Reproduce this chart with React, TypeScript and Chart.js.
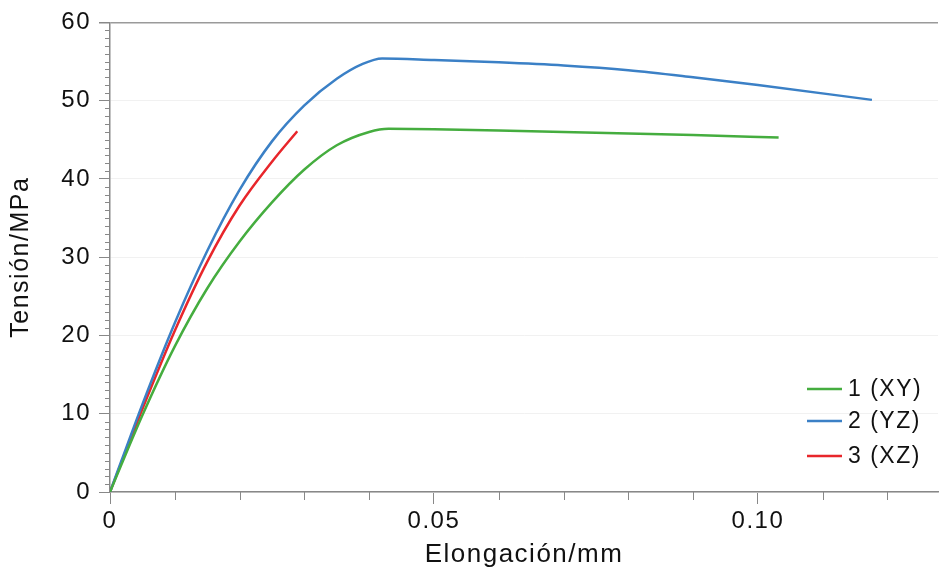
import React, { useEffect, useRef } from "react";
import { Chart, registerables } from "chart.js";

Chart.register(...registerables);

const seriesNames = ["1 (XY)", "2 (YZ)", "3 (XZ)"];
const seriesColors = ["#45ad3f", "#3b80c6", "#e8262b"];

const xyX = [0, 0.005, 0.01, 0.015, 0.02, 0.025, 0.03, 0.035, 0.04, 0.043, 0.05, 0.06, 0.07, 0.08, 0.09, 0.1032];
const xyY = [0, 9.8, 18.6, 26.0, 32.0, 37.0, 41.2, 44.3, 46.0, 46.4, 46.35, 46.2, 46.0, 45.8, 45.6, 45.3];

const yzX = [0, 0.005, 0.01, 0.015, 0.02, 0.025, 0.03, 0.035, 0.039, 0.042, 0.05, 0.06, 0.07, 0.08, 0.09, 0.1, 0.1176];
const yzY = [0, 11.2, 21.6, 30.8, 38.6, 44.8, 49.4, 52.8, 54.7, 55.4, 55.2, 54.9, 54.5, 53.9, 53.0, 52.0, 50.1];

const xzX = [0, 0.005, 0.01, 0.015, 0.02, 0.025, 0.0289];
const xzY = [0, 10.6, 20.6, 29.4, 36.6, 42.2, 46.1];

const xTickValues = [0, 0.05, 0.1];
const yTickValues = [0, 10, 20, 30, 40, 50, 60];

const xTitle = "Elongación/mm";
const yTitle = "Tensión/MPa";

const FONT = "'Liberation Sans', Arial, Helvetica, sans-serif";

function pts(xs: number[], ys: number[]) {
  return xs.map((x, i) => ({ x, y: ys[i] }));
}

const minorTicksPlugin = {
  id: "minorTicks",
  beforeDraw(chart: any) {
    (chart.ctx as any).letterSpacing = "1.5px";
  },
  afterDraw(chart: any) {
    const ctx = chart.ctx;
    const xs = chart.scales.x;
    const ys = chart.scales.y;
    const area = chart.chartArea;
    ctx.save();
    ctx.strokeStyle = "#888";
    ctx.lineWidth = 1;
    ctx.beginPath();
    for (let i = 1; i < 60; i++) {
      if (i % 10 === 0) continue;
      const py = Math.round(ys.getPixelForValue(i)) + 0.5;
      ctx.moveTo(area.left - 5, py);
      ctx.lineTo(area.left, py);
    }
    for (let i = 1; i <= 12; i++) {
      if (i % 5 === 0) continue;
      const px = Math.round(xs.getPixelForValue(i / 100)) + 0.5;
      ctx.moveTo(px, area.bottom);
      ctx.lineTo(px, area.bottom + 8);
    }
    ctx.stroke();
    // legend
    const lx = area.right - 131;
    const rows = [area.bottom - 103, area.bottom - 71, area.bottom - 36];
    ctx.font = "23px " + FONT;
    (ctx as any).letterSpacing = "1.5px";
    ctx.textBaseline = "middle";
    ctx.textAlign = "left";
    seriesNames.forEach((name, i) => {
      ctx.strokeStyle = seriesColors[i];
      ctx.lineWidth = 2.5;
      ctx.beginPath();
      ctx.moveTo(lx, rows[i]);
      ctx.lineTo(lx + 35, rows[i]);
      ctx.stroke();
      ctx.fillStyle = "#111";
      ctx.fillText(name, lx + 41, rows[i] + 1);
    });
    ctx.restore();
  },
};

export default function App() {
  const ref = useRef<HTMLCanvasElement>(null);
  useEffect(() => {
    if (!ref.current) return;
    const data = [pts(xyX, xyY), pts(yzX, yzY), pts(xzX, xzY)];
    const chart = new Chart(ref.current, {
      type: "line",
      data: {
        datasets: seriesNames.map((name, i) => ({
          label: name,
          data: data[i],
          borderColor: seriesColors[i],
          backgroundColor: seriesColors[i],
          borderWidth: 2.5,
          pointRadius: 0,
          cubicInterpolationMode: "monotone" as const,
          fill: false,
        })),
      },
      options: {
        animation: false,
        responsive: false,
        layout: { padding: { top: 19, right: 2, left: 0, bottom: 0 } },
        plugins: { legend: { display: false }, tooltip: { enabled: false } },
        scales: {
          x: {
            type: "linear",
            min: 0,
            max: 0.1278,
            afterFit: (s: any) => {
              s.height = 78;
            },
            afterBuildTicks: (s: any) => {
              s.ticks = xTickValues.map((v) => ({ value: v }));
            },
            ticks: {
              autoSkip: false,
              maxRotation: 0,
              padding: 3,
              color: "#111",
              font: { family: FONT, size: 24 },
              callback: (v: any) => (v === 0 ? "0" : Number(v).toFixed(2)),
            },
            grid: { drawOnChartArea: false, tickLength: 12, tickColor: "#888" },
            border: { color: "#888", width: 1.5 },
            title: {
              display: true,
              text: xTitle,
              color: "#111",
              font: { family: FONT, size: 26 },
              padding: { top: 0, bottom: 0 },
            },
          },
          y: {
            type: "linear",
            min: 0,
            max: 60,
            afterFit: (s: any) => {
              s.width = 110;
            },
            afterBuildTicks: (s: any) => {
              s.ticks = yTickValues.map((v) => ({ value: v }));
            },
            ticks: {
              autoSkip: false,
              padding: 8,
              color: "#111",
              font: { family: FONT, size: 24 },
            },
            grid: {
              tickLength: 11,
              tickColor: "#888",
              color: (c: any) => (c.tick && c.tick.value === 60 ? "#9a9a9a" : "#f1f1f1"),
              lineWidth: (c: any) => (c.tick && c.tick.value === 60 ? 1.5 : 1),
            },
            border: { color: "#888", width: 1.5 },
            title: {
              display: true,
              text: yTitle,
              color: "#111",
              font: { family: FONT, size: 25 },
              padding: { top: 6, bottom: 0 },
            },
          },
        },
      },
      plugins: [minorTicksPlugin],
    });
    return () => chart.destroy();
  }, []);
  return (
    <div style={{ position: "absolute", left: 0, top: 0, width: 940, height: 570, background: "#fff" }}>
      <canvas ref={ref} width={940} height={570} />
    </div>
  );
}
